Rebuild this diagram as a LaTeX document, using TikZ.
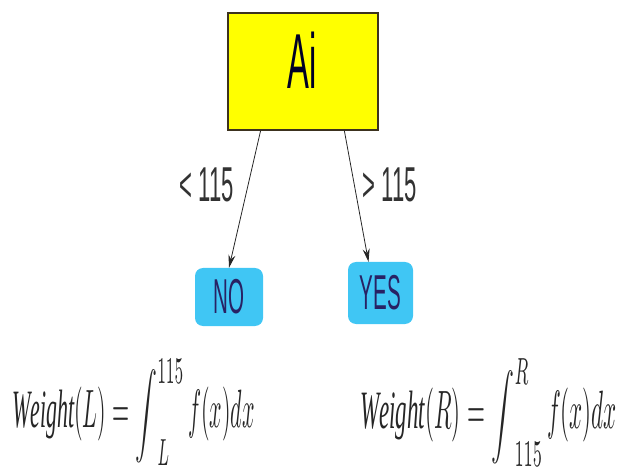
\documentclass[tikz,border=0pt]{standalone}
\usepackage{fontspec}
\setmainfont{Liberation Serif}
\newfontfamily\condA[FakeStretch=0.42]{Liberation Sans}
\newfontfamily\condB[FakeStretch=0.45]{Liberation Sans}
\usetikzlibrary{arrows.meta,calc}
\newcommand{\shortint}{\mathop{\scalebox{1}[0.78]{$\displaystyle\int$}}\nolimits}
\definecolor{boxyellow}{RGB}{255,255,0}
\definecolor{boxborder}{RGB}{60,50,30}
\definecolor{leafcyan}{RGB}{64,198,244}
\definecolor{leaftext}{RGB}{40,34,100}
\definecolor{lbltext}{RGB}{50,50,50}
\tikzset{
  rootbox/.style={draw=boxborder, line width=1.5pt, fill=boxyellow, minimum width=150pt, minimum height=117pt, inner sep=0pt},
  leafbox/.style={fill=leafcyan, rounded corners=8pt, inner sep=0pt, text=leaftext, font=\condA\fontsize{49}{49}\selectfont},
  edgelbl/.style={text=lbltext, font=\condB\fontsize{49}{49}\selectfont, inner sep=0pt},
  conn/.style={draw=black!85, line width=0.8pt, -{Stealth[length=13pt,width=7pt]}},
  formula/.style={inner sep=0pt, anchor=base west, text=black!85}
}
\begin{document}
\begin{tikzpicture}[x=1pt,y=-1pt]
\useasboundingbox (0,0) rectangle (624,473);
\node[rootbox] (ai) at (303,71.5) {};
\node[inner sep=0pt, text=black!85!blue, font=\condA\fontsize{78}{78}\selectfont] (ailbl) at (302,60) {Ai};
\node[leafbox, minimum width=68pt, minimum height=58pt] (no) at (229,297) {NO};
\node[leafbox, minimum width=65pt, minimum height=62pt] (yes) at (380.5,293) {YES};
\draw[conn] ($(ai.south west)!0.22!(ai.south east)$) -- (no.north);
\draw[conn] ($(ai.south west)!0.773!(ai.south east)$) -- ($(yes.north)+(-12,0)$);
\node[edgelbl] (lt) at (207,185) {< 115};
\node[edgelbl] (gt) at (390,185) {> 115};
\node[formula] (wl) at (12,427) {\scalebox{2.19}[5.4]{$\displaystyle \mathit{Weight}(L)=\shortint_{L}^{115} f(x)dx$}};
\node[formula] (wr) at (360,428) {\scalebox{2.3}[5.4]{$\displaystyle \mathit{Weight}(R)=\shortint_{115}^{R} f(x)dx$}};
\end{tikzpicture}
\end{document}
